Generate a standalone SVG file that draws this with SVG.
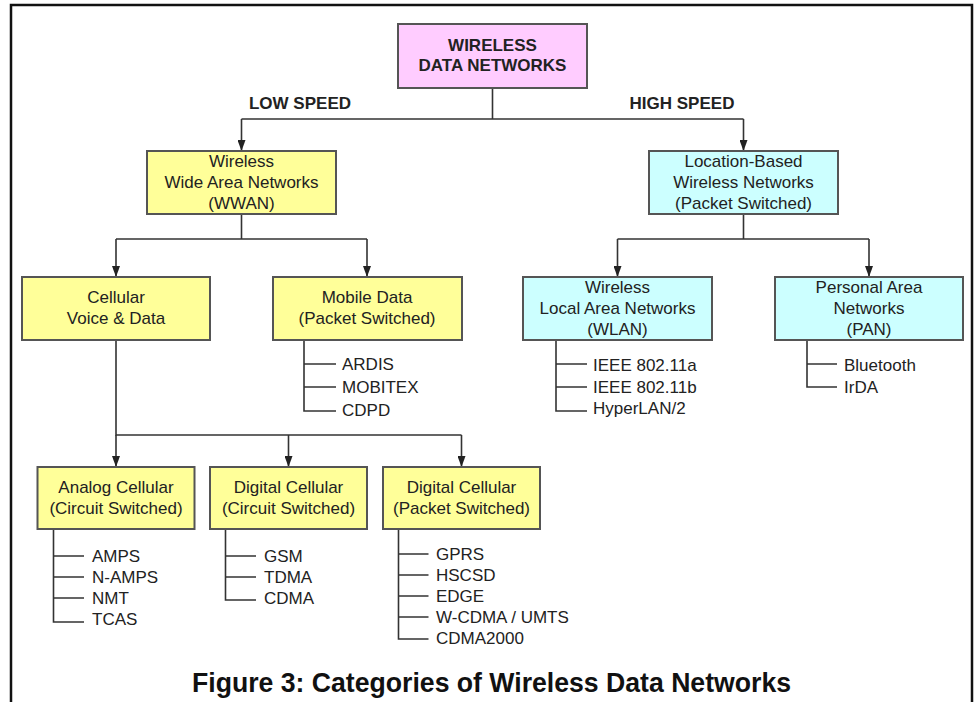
<svg xmlns="http://www.w3.org/2000/svg" width="977" height="702" viewBox="0 0 977 702">
<defs>
<marker id="arr" markerUnits="userSpaceOnUse" markerWidth="11" markerHeight="8" refX="11" refY="4" orient="auto">
<path d="M0,0 L11,4 L0,8 z" fill="#222"/>
</marker>
<style>
.box{stroke:#555;stroke-width:2}
.y{fill:#FFFF99}
.c{fill:#CCFFFF}
.p{fill:#FFCCFF}
.t{font-family:"Liberation Sans",Arial,sans-serif;font-size:17px;fill:#222;text-anchor:middle}
.b{font-weight:bold}
.l{font-family:"Liberation Sans",Arial,sans-serif;font-size:17px;fill:#222}
.ln{fill:none;stroke:#333;stroke-width:1.6}
.cap{font-family:"Liberation Sans",Arial,sans-serif;font-size:27px;font-weight:bold;fill:#111;text-anchor:middle}
</style>
</defs>
<rect width="977" height="702" fill="#fff"/>
<path d="M11,702 V5 H972 V702" fill="none" stroke="#111" stroke-width="2.5"/>

<g id="connectors" class="ln">
<path d="M492.5,88 V119 M241.5,119 H743.5"/>
<path d="M241.5,119 V151" marker-end="url(#arr)"/>
<path d="M743.5,119 V151" marker-end="url(#arr)"/>
<path d="M241.5,214 V239 M116,239 H367"/>
<path d="M116,239 V277" marker-end="url(#arr)"/>
<path d="M367,239 V277" marker-end="url(#arr)"/>
<path d="M743.5,214 V239 M617.5,239 H869"/>
<path d="M617.5,239 V277" marker-end="url(#arr)"/>
<path d="M869,239 V277" marker-end="url(#arr)"/>
<path d="M116,340 V435 H461.5"/>
<path d="M116,435 V467" marker-end="url(#arr)"/>
<path d="M288.5,435 V467" marker-end="url(#arr)"/>
<path d="M461.5,435 V467" marker-end="url(#arr)"/>
<path d="M304,340 V411 H336 M304,364 H336 M304,387 H336"/>
<path d="M556,340 V411 H587 M556,364 H587 M556,387 H587"/>
<path d="M807,340 V387 H837 M807,364 H837"/>
<path d="M53.5,529 V622 H84 M53.5,556 H84 M53.5,577 H84 M53.5,598 H84"/>
<path d="M225.5,529 V600 H256 M225.5,556 H256 M225.5,577 H256"/>
<path d="M398.5,529 V639 H428.5 M398.5,554 H428.5 M398.5,575 H428.5 M398.5,596 H428.5 M398.5,617 H428.5"/>
</g>

<text class="t b" x="300" y="109">LOW SPEED</text>
<text class="t b" x="682" y="109">HIGH SPEED</text>

<g id="root">
<rect class="box p" x="398" y="24" width="189" height="64"/>
<text class="t b" x="492.5" y="51">WIRELESS</text>
<text class="t b" x="492.5" y="71">DATA NETWORKS</text>
</g>

<g id="wwan">
<rect class="box y" x="147" y="151" width="189" height="63"/>
<text class="t" x="241.5" y="166.5">Wireless</text>
<text class="t" x="241.5" y="187.5">Wide Area Networks</text>
<text class="t" x="241.5" y="208.5">(WWAN)</text>
</g>

<g id="location">
<rect class="box c" x="649" y="151" width="189" height="63"/>
<text class="t" x="743.5" y="166.5">Location-Based</text>
<text class="t" x="743.5" y="187.5">Wireless Networks</text>
<text class="t" x="743.5" y="208.5">(Packet Switched)</text>
</g>

<g id="cellular">
<rect class="box y" x="22" y="277" width="188" height="63"/>
<text class="t" x="116" y="303">Cellular</text>
<text class="t" x="116" y="324">Voice &amp; Data</text>
</g>

<g id="mobile">
<rect class="box y" x="273" y="277" width="189" height="63"/>
<text class="t" x="367" y="303">Mobile Data</text>
<text class="t" x="367" y="324">(Packet Switched)</text>
<text class="l" x="342" y="370">ARDIS</text>
<text class="l" x="342" y="393">MOBITEX</text>
<text class="l" x="342" y="416">CDPD</text>
</g>

<g id="wlan">
<rect class="box c" x="523" y="277" width="189" height="63"/>
<text class="t" x="617.5" y="292.5">Wireless</text>
<text class="t" x="617.5" y="313.5">Local Area Networks</text>
<text class="t" x="617.5" y="334.5">(WLAN)</text>
<text class="l" x="593" y="371">IEEE 802.11a</text>
<text class="l" x="593" y="393">IEEE 802.11b</text>
<text class="l" x="593" y="414">HyperLAN/2</text>
</g>

<g id="pan">
<rect class="box c" x="775" y="277" width="188" height="63"/>
<text class="t" x="869" y="292.5">Personal Area</text>
<text class="t" x="869" y="313.5">Networks</text>
<text class="t" x="869" y="334.5">(PAN)</text>
<text class="l" x="844" y="371">Bluetooth</text>
<text class="l" x="844" y="393">IrDA</text>
</g>

<g id="analog">
<rect class="box y" x="37.5" y="467" width="157" height="62"/>
<text class="t" x="116" y="493">Analog Cellular</text>
<text class="t" x="116" y="514">(Circuit Switched)</text>
<text class="l" x="92" y="562">AMPS</text>
<text class="l" x="92" y="583">N-AMPS</text>
<text class="l" x="92" y="604">NMT</text>
<text class="l" x="92" y="625">TCAS</text>
</g>

<g id="digital-circuit">
<rect class="box y" x="210" y="467" width="157" height="62"/>
<text class="t" x="288.5" y="493">Digital Cellular</text>
<text class="t" x="288.5" y="514">(Circuit Switched)</text>
<text class="l" x="264" y="562">GSM</text>
<text class="l" x="264" y="583">TDMA</text>
<text class="l" x="264" y="604">CDMA</text>
</g>

<g id="digital-packet">
<rect class="box y" x="383" y="467" width="157" height="62"/>
<text class="t" x="461.5" y="493">Digital Cellular</text>
<text class="t" x="461.5" y="514">(Packet Switched)</text>
<text class="l" x="436" y="560">GPRS</text>
<text class="l" x="436" y="581">HSCSD</text>
<text class="l" x="436" y="602">EDGE</text>
<text class="l" x="436" y="623">W-CDMA / UMTS</text>
<text class="l" x="436" y="644">CDMA2000</text>
</g>

<text class="cap" x="491.5" y="692" textLength="599" lengthAdjust="spacingAndGlyphs">Figure 3: Categories of Wireless Data Networks</text>
</svg>
